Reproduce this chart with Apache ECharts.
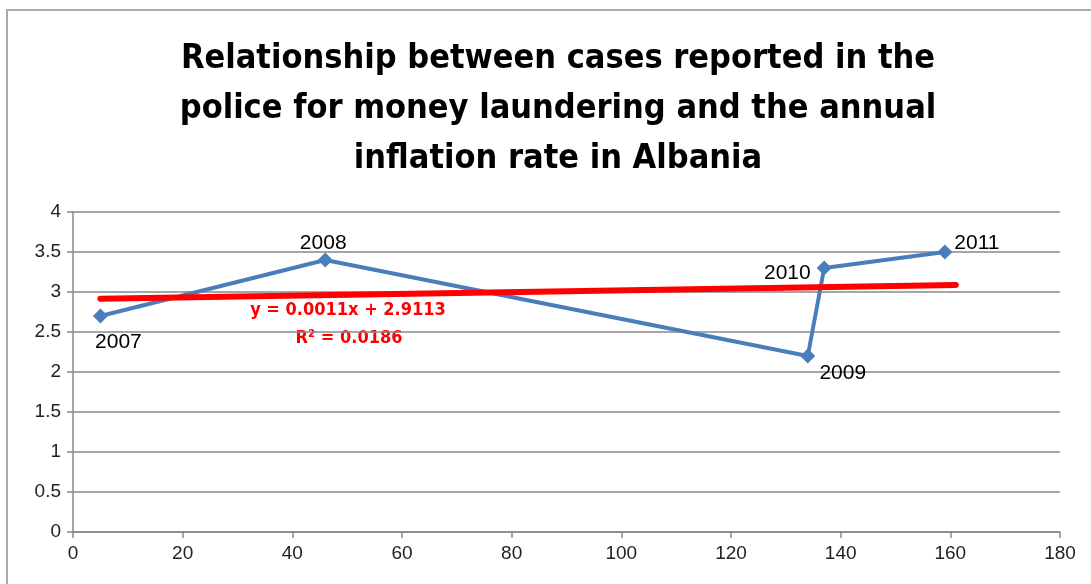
<html>
<head>
<meta http-equiv="Content-Type" content="text/html; charset=utf-8" />
<script src="https://cdn.jsdelivr.net/npm/echarts@6/dist/echarts.min.js"></script>
<style>
  html, body { margin: 0; padding: 0; background: #fff; }
</style>
</head>
<body>
<div id="chart" style="width:1091px;height:584px;"></div>
<script type="text/javascript">
// cases reported (x) vs inflation rate (y)
var years = ['2007', '2008', '2009', '2010', '2011'];
var cases = [5, 46, 134, 137, 159];
var inflation = [2.7, 3.4, 2.2, 3.3, 3.5];
// trendline ends as drawn
var trendX = [5, 161];
var trendY = [2.917, 3.089];
var xTicks = { min: 0, max: 180, step: 20 };
var yTicks = { min: 0, max: 4, step: 0.5 };

// where each year label sits around its point
var labelPos = [
  { position: 'bottom', offset: [18, 3] },
  { position: 'top', offset: [-2, 6] },
  { position: 'bottom', offset: [35, -6] },
  { position: 'left', offset: [-1, 5] },
  { position: 'right', offset: [-3, -9] }
];

var font = '"Liberation Sans Narrow", "DejaVu Sans Condensed", "Liberation Sans", sans-serif';

var points = cases.map(function (c, i) {
  return {
    value: [c, inflation[i]],
    label: {
      show: true,
      formatter: years[i],
      position: labelPos[i].position,
      offset: labelPos[i].offset,
      color: '#000',
      fontSize: 21,
      fontFamily: '"Liberation Sans", sans-serif'
    }
  };
});

var trend = trendX.map(function (x, i) { return [x, trendY[i]]; });

var myChart = echarts.init(document.getElementById('chart'));
myChart.setOption({
  animation: false,
  title: {
    text: 'Relationship between cases reported in the\npolice for money laundering and the annual\ninflation rate in Albania',
    left: 553,
    textAlign: 'center',
    top: 29,
    textStyle: {
      fontSize: 34,
      fontWeight: 'bold',
      color: '#000',
      lineHeight: 50,
      fontFamily: font
    }
  },
  grid: { left: 73, right: 31, top: 212, bottom: 52 },
  xAxis: {
    type: 'value',
    min: xTicks.min, max: xTicks.max, interval: xTicks.step,
    axisLine: { lineStyle: { color: '#888', width: 1.5 } },
    axisTick: { show: true, length: 6, lineStyle: { color: '#888', width: 1.5 } },
    axisLabel: { color: '#222', fontSize: 19, margin: 12, fontFamily: '"Liberation Sans", sans-serif' },
    splitLine: { show: false }
  },
  yAxis: {
    type: 'value',
    min: yTicks.min, max: yTicks.max, interval: yTicks.step,
    axisLine: { show: true, lineStyle: { color: '#888', width: 1.5 } },
    axisTick: { show: true, length: 6, lineStyle: { color: '#888', width: 1.5 } },
    axisLabel: { color: '#222', fontSize: 19, margin: 12, fontFamily: '"Liberation Sans", sans-serif' },
    splitLine: { lineStyle: { color: '#888', width: 1.5 } }
  },
  series: [
    {
      type: 'line',
      data: points,
      symbol: 'diamond',
      symbolSize: 15,
      itemStyle: { color: '#4a7ebb' },
      lineStyle: { color: '#4a7ebb', width: 4 },
      z: 3
    },
    {
      type: 'line',
      data: trend,
      symbol: 'none',
      lineStyle: { color: '#ff0000', width: 6, cap: 'round' },
      z: 4
    }
  ],
  graphic: [
    {
      type: 'rect',
      shape: { x: 7, y: 10, width: 1200, height: 700 },
      style: { fill: 'none', stroke: '#aaa', lineWidth: 2 },
      silent: true
    },
    {
      type: 'text',
      x: 348, y: 310,
      style: {
        text: 'y = 0.0011x + 2.9113',
        fill: '#ff0000',
        fontSize: 18,
        fontWeight: 'bold',
        fontFamily: font,
        align: 'center',
        verticalAlign: 'middle'
      }
    },
    {
      type: 'text',
      x: 349, y: 338,
      style: {
        text: 'R² = 0.0186',
        fill: '#ff0000',
        fontSize: 18,
        fontWeight: 'bold',
        fontFamily: font,
        align: 'center',
        verticalAlign: 'middle'
      }
    }
  ]
});
</script>
</body>
</html>
